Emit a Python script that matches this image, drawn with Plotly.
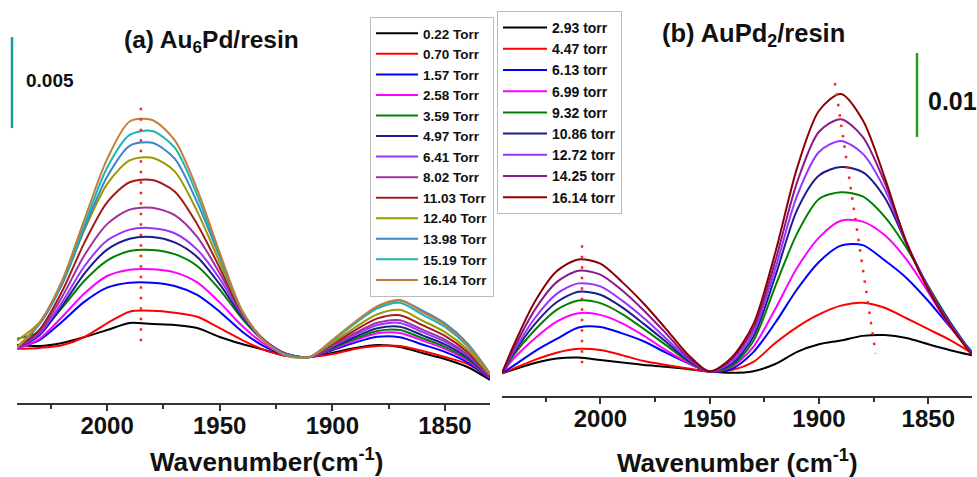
import plotly.graph_objects as go

# ---------------- Panel (a): Au6Pd/resin ----------------
WN_A = [2040, 2030, 2020, 2010, 2000, 1990, 1980, 1970, 1960, 1950, 1940,
        1930, 1920, 1910, 1900, 1890, 1880, 1870, 1860, 1850, 1840, 1830]

# absorbance in units of 1e-3 (relative, baseline-offset)
A_0_22 = [0.66, 0.60, 0.77, 1.10, 1.48, 1.87, 1.81, 1.76, 1.59, 1.10, 0.71, 0.38, 0.05, 0.0, 0.22, 0.49, 0.66, 0.55, 0.22, -0.11, -0.55, -1.26]
A_0_70 = [0.45, 0.50, 0.65, 1.10, 1.85, 2.49, 2.54, 2.43, 2.21, 1.59, 0.93, 0.38, 0.05, 0.0, 0.16, 0.44, 0.60, 0.60, 0.33, 0.00, -0.38, -1.15]
A_1_57 = [0.50, 0.93, 1.94, 3.04, 3.81, 4.08, 4.08, 3.90, 3.41, 2.49, 1.39, 0.57, 0.10, 0.0, 0.37, 0.79, 1.11, 1.09, 0.69, 0.28, -0.30, -1.19]
A_2_58 = [0.45, 1.00, 2.20, 3.50, 4.45, 4.80, 4.82, 4.65, 4.10, 3.00, 1.70, 0.70, 0.12, 0.0, 0.43, 0.92, 1.30, 1.32, 0.90, 0.45, -0.19, -1.16]
A_3_59 = [1.00, 1.40, 2.70, 4.20, 5.30, 5.82, 5.88, 5.65, 5.00, 3.70, 2.10, 0.85, 0.15, 0.0, 0.48, 1.00, 1.43, 1.48, 1.03, 0.56, -0.11, -1.14]
A_4_97 = [0.50, 1.20, 2.80, 4.60, 5.90, 6.50, 6.60, 6.30, 5.50, 4.00, 2.20, 0.85, 0.15, 0.0, 0.53, 1.10, 1.58, 1.66, 1.19, 0.69, -0.03, -1.12]
A_6_41 = [0.50, 1.30, 3.00, 5.00, 6.40, 7.00, 7.08, 6.80, 5.90, 4.30, 2.30, 0.90, 0.15, 0.0, 0.58, 1.22, 1.75, 1.87, 1.37, 0.84, 0.07, -1.09]
A_8_02 = [0.50, 1.40, 3.30, 5.60, 7.30, 8.10, 8.20, 7.80, 6.60, 4.60, 2.40, 0.90, 0.15, 0.0, 0.62, 1.31, 1.88, 2.02, 1.50, 0.96, 0.14, -1.07]
A_11_03 = [0.50, 1.50, 3.60, 6.30, 8.50, 9.60, 9.73, 9.10, 7.30, 4.90, 2.40, 0.90, 0.10, 0.0, 0.70, 1.46, 2.12, 2.30, 1.75, 1.16, 0.27, -1.04]
A_12_40 = [0.90, 1.90, 4.00, 7.00, 9.50, 10.80, 10.95, 10.20, 8.00, 5.20, 2.50, 0.85, 0.10, 0.0, 0.78, 1.62, 2.35, 2.59, 2.00, 1.37, 0.41, -1.00]
A_13_98 = [0.50, 1.80, 4.00, 7.10, 9.90, 11.60, 11.77, 10.90, 8.50, 5.50, 2.50, 0.85, 0.10, 0.0, 0.90, 1.88, 2.75, 3.10, 2.55, 1.85, 0.75, -0.90]
A_15_19 = [0.50, 1.85, 4.10, 7.30, 10.40, 12.20, 12.42, 11.50, 8.90, 5.60, 2.50, 0.85, 0.10, 0.0, 0.89, 1.83, 2.67, 2.98, 2.33, 1.65, 0.59, -0.95]
A_16_14 = [0.55, 1.88, 4.19, 7.58, 10.87, 12.94, 13.02, 11.92, 9.21, 5.73, 2.53, 0.82, 0.05, 0.0, 0.93, 1.92, 2.80, 3.13, 2.47, 1.76, 0.66, -0.93]

LABELS_A = ["0.22 Torr", "0.70 Torr", "1.57 Torr", "2.58 Torr", "3.59 Torr", "4.97 Torr",
            "6.41 Torr", "8.02 Torr", "11.03 Torr", "12.40 Torr", "13.98 Torr",
            "15.19 Torr", "16.14 Torr"]
SERIES_A = [A_0_22, A_0_70, A_1_57, A_2_58, A_3_59, A_4_97, A_6_41, A_8_02,
            A_11_03, A_12_40, A_13_98, A_15_19, A_16_14]
COLORS_A = ["#000000", "#ff0000", "#0000ff", "#ff00ff", "#008000", "#1c1c8c",
            "#9933ff", "#a0309f", "#a01c1c", "#999900", "#3d86c6", "#1cb4b4", "#c07e3a"]

PEAK_A_X = [1985, 1985]
PEAK_A_Y = [13.7, 0.5]

# ---------------- Panel (b): AuPd2/resin ----------------
WN_B = [2045, 2040, 2030, 2020, 2010, 2000, 1990, 1980, 1970, 1960, 1950, 1940,
        1930, 1920, 1910, 1900, 1890, 1880, 1870, 1860, 1850, 1840, 1830]

B_2_93 = [-0.15, 0.25, 1.07, 1.60, 1.73, 1.43, 1.13, 0.83, 0.63, 0.36, 0.05, -0.10, 0.10, 0.95, 2.40, 3.30, 3.75, 4.30, 4.40, 4.05, 3.30, 2.60, 2.00]
B_4_47 = [-0.15, 0.38, 1.45, 2.30, 2.76, 2.62, 2.00, 1.30, 0.83, 0.42, 0.05, 0.24, 1.20, 3.45, 5.35, 6.85, 7.90, 8.25, 7.65, 6.40, 5.10, 3.80, 2.25]
B_6_13 = [-0.15, 0.70, 2.46, 3.93, 5.29, 5.36, 4.60, 3.63, 2.30, 1.05, 0.05, 0.36, 2.37, 5.86, 9.85, 13.10, 15.05, 15.10, 13.30, 11.20, 8.45, 5.35, 2.40]
B_6_99 = [-0.15, 1.50, 4.00, 6.00, 7.00, 6.80, 5.80, 4.30, 2.60, 1.10, 0.05, 0.60, 3.00, 7.50, 12.40, 16.00, 18.00, 17.90, 16.30, 13.40, 9.50, 5.40, 2.30]
B_9_32 = [-0.15, 1.90, 5.00, 7.40, 8.50, 8.20, 6.90, 5.10, 3.20, 1.30, 0.05, 0.70, 3.70, 10.20, 16.50, 20.60, 21.40, 20.90, 18.50, 14.80, 10.20, 5.95, 2.20]
B_10_86 = [-0.15, 2.10, 5.70, 8.30, 9.55, 9.20, 7.70, 5.70, 3.60, 1.40, 0.05, 0.95, 4.20, 11.40, 19.30, 23.40, 24.40, 23.80, 20.80, 15.30, 10.10, 5.85, 2.15]
B_12_72 = [-0.15, 2.30, 6.40, 9.30, 10.55, 10.20, 8.50, 6.40, 4.00, 1.60, 0.05, 1.20, 4.70, 12.30, 21.00, 26.20, 27.50, 26.00, 21.80, 15.40, 10.00, 5.70, 2.10]
B_14_25 = [-0.15, 2.60, 7.40, 10.70, 12.05, 11.60, 9.70, 7.30, 4.60, 1.80, 0.05, 1.50, 5.20, 13.20, 22.60, 28.60, 30.10, 28.00, 22.60, 15.50, 9.90, 5.60, 2.05]
B_16_14 = [-0.15, 2.98, 8.37, 12.00, 13.40, 12.90, 10.70, 8.10, 5.14, 2.10, 0.06, 1.70, 5.70, 14.20, 24.30, 31.10, 33.10, 30.00, 23.20, 15.40, 9.80, 5.50, 2.00]

LABELS_B = ["2.93 torr", "4.47 torr", "6.13 torr", "6.99 torr", "9.32 torr",
            "10.86 torr", "12.72 torr", "14.25 torr", "16.14 torr"]
SERIES_B = [B_2_93, B_4_47, B_6_13, B_6_99, B_9_32, B_10_86, B_12_72, B_14_25, B_16_14]
COLORS_B = ["#000000", "#ff0000", "#0000ff", "#ff00ff", "#008000", "#1c1c8c",
            "#9933ff", "#8b1a8b", "#8b0000"]

PEAK_B1_X = [2008.4, 2008.4]
PEAK_B1_Y = [15.1, 0.63]
PEAK_B2_X = [1892.7, 1874.1]
PEAK_B2_Y = [34.4, 2.2]

# scale bars (units of 1e-3 absorbance)
SCALE_A = 5.0
SCALE_A_LABEL = "0.005"
SCALE_B = 10.0
SCALE_B_LABEL = "0.01"

W, H = 977, 477
FONT = "Liberation Sans, Arial, sans-serif"


def px(x):
    return x / W


def py(y):
    return 1 - y / H


fig = go.Figure()

for name, ys, col in zip(LABELS_A, SERIES_A, COLORS_A):
    fig.add_trace(go.Scatter(x=WN_A, y=ys, mode="lines", name=name,
                             line=dict(color=col, width=2, shape="spline", smoothing=0.8),
                             xaxis="x", yaxis="y", legend="legend"))
fig.add_trace(go.Scatter(x=PEAK_A_X, y=PEAK_A_Y, mode="lines", showlegend=False,
                         line=dict(color="#ff2020", width=2.5, dash="2.5px,8px"),
                         xaxis="x", yaxis="y"))

for name, ys, col in zip(LABELS_B, SERIES_B, COLORS_B):
    fig.add_trace(go.Scatter(x=WN_B, y=ys, mode="lines", name=name,
                             line=dict(color=col, width=2, shape="spline", smoothing=0.8),
                             xaxis="x2", yaxis="y2", legend="legend2"))
for xs, ys in [(PEAK_B1_X, PEAK_B1_Y), (PEAK_B2_X, PEAK_B2_Y)]:
    fig.add_trace(go.Scatter(x=xs, y=ys, mode="lines", showlegend=False,
                             line=dict(color="#ff2020", width=2.5, dash="2.5px,8px"),
                             xaxis="x2", yaxis="y2"))

axis_common = dict(
    showline=True, linecolor="#333333", linewidth=1.5, showgrid=False, zeroline=False,
    ticks="outside", ticklen=6, tickwidth=1.5, tickcolor="#333333",
    tick0=2000, dtick=50, ticklabelstandoff=-6,
    tickfont=dict(family=FONT, size=24, color="#111111", weight="bold"),
    minor=dict(dtick=25, tick0=2000, ticks="outside", ticklen=4, tickwidth=1.5,
               tickcolor="#333333", showgrid=False),
)

fig.update_layout(
    width=W, height=H,
    margin=dict(l=0, r=0, t=0, b=0),
    paper_bgcolor="white", plot_bgcolor="white",
    font=dict(family=FONT, color="#111111"),
    hovermode=False,
    xaxis=dict(domain=[px(17), px(490)], range=[2040, 1830], anchor="y", **axis_common),
    yaxis=dict(domain=[py(403), 1], range=[(357 - 403) / 18.2, 357 / 18.2], visible=False),
    xaxis2=dict(domain=[px(502), px(972)], range=[2045, 1830], anchor="y2", **axis_common),
    yaxis2=dict(domain=[py(396), 1], range=[(372 - 396) / 8.4, 372 / 8.4], visible=False),
    legend=dict(x=px(370), y=py(17), xanchor="left", yanchor="top", bgcolor="white",
                bordercolor="#bbbbbb", borderwidth=1, tracegroupgap=0, itemwidth=42,
                font=dict(family=FONT, size=13.5, color="#111111", weight="bold")),
    legend2=dict(x=px(497), y=py(11), xanchor="left", yanchor="top", bgcolor="white",
                 bordercolor="#bbbbbb", borderwidth=1, tracegroupgap=0, itemwidth=44,
                 font=dict(family=FONT, size=14, color="#111111", weight="bold")),
    shapes=[
        dict(type="line", xref="paper", yref="y", x0=px(12), x1=px(12),
             y0=12.58, y1=12.58 + SCALE_A, line=dict(color="#1a9c9c", width=2.5)),
        dict(type="line", xref="paper", yref="y2", x0=px(917), x1=px(917),
             y0=27.98, y1=27.98 + SCALE_B, line=dict(color="#22a022", width=2.5)),
    ],
    annotations=[
        dict(text="<b>(a) Au<sub>6</sub>Pd/resin</b>", x=px(211), y=py(42), xref="paper",
             yref="paper", showarrow=False, xanchor="center", yanchor="middle",
             font=dict(family=FONT, size=24.5, color="#111111")),
        dict(text="<b>(b) AuPd<sub>2</sub>/resin</b>", x=px(753), y=py(35), xref="paper",
             yref="paper", showarrow=False, xanchor="center", yanchor="middle",
             font=dict(family=FONT, size=25.5, color="#111111")),
        dict(text="<b>" + SCALE_A_LABEL + "</b>", x=px(24), y=py(80), xref="paper",
             yref="paper", showarrow=False, xanchor="left", yanchor="middle",
             font=dict(family=FONT, size=19, color="#111111")),
        dict(text="<b>" + SCALE_B_LABEL + "</b>", x=px(926), y=py(101), xref="paper",
             yref="paper", showarrow=False, xanchor="left", yanchor="middle",
             font=dict(family=FONT, size=25, color="#111111")),
        dict(text="<b>Wavenumber(cm<sup>-1</sup>)</b>", x=px(266), y=py(460), xref="paper",
             yref="paper", showarrow=False, xanchor="center", yanchor="middle",
             font=dict(family=FONT, size=26, color="#111111")),
        dict(text="<b>Wavenumber (cm<sup>-1</sup>)</b>", x=px(737), y=py(461), xref="paper",
             yref="paper", showarrow=False, xanchor="center", yanchor="middle",
             font=dict(family=FONT, size=26, color="#111111")),
    ],
)

fig.write_html("out.html")
